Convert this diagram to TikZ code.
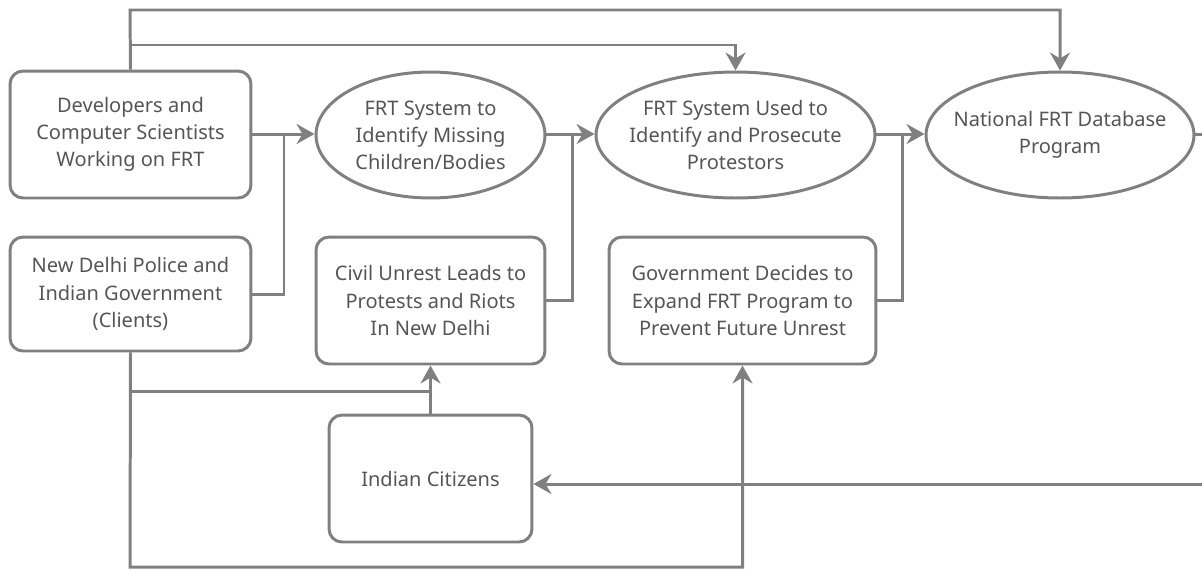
\documentclass[tikz,border=0pt]{standalone}
\usepackage{fontspec}
\setmainfont{Noto Sans}
\usetikzlibrary{shapes.geometric,arrows.meta}

\definecolor{linegray}{HTML}{808080}
\definecolor{textgray}{HTML}{555555}

\tikzset{
  actor/.style={draw=linegray, line width=1.7pt, rounded corners=0.26cm,
    align=center, text=textgray, inner sep=2pt,
    font=\fontsize{11.4}{15.4}\selectfont},
  event/.style={ellipse, draw=linegray, line width=1.7pt,
    align=center, text=textgray, inner xsep=-12pt, inner ysep=-8pt,
    font=\fontsize{11.4}{15.4}\selectfont},
  link/.style={draw=linegray, line width=1.7pt},
  arr/.style={link, -{Stealth[length=0.36cm, width=0.4cm, inset=0.12cm]}}
}

\begin{document}
\begin{tikzpicture}[x=0.02cm, y=-0.02cm]
  \useasboundingbox (0,0) rectangle (1202,569);
  \node[actor, minimum width=4.82cm, minimum height=2.54cm] (devs) at (130.5,134.5)
    {Developers and\\Computer Scientists\\Working on FRT};
  \node[actor, minimum width=4.82cm, minimum height=2.28cm] (police) at (130.5,294)
    {New Delhi Police and\\Indian Government\\(Clients)};
  \node[event, minimum width=4.58cm, minimum height=2.52cm] (missing) at (430.5,135)
    {FRT System to\\Identify Missing\\Children/Bodies};
  \node[event, minimum width=5.58cm, minimum height=2.52cm] (protest) at (735.5,135)
    {FRT System Used to\\Identify and Prosecute\\Protestors};
  \node[event, minimum width=5.36cm, minimum height=2.52cm] (natdb) at (1060,135)
    {National FRT Database\\Program};
  \node[actor, minimum width=4.58cm, minimum height=2.54cm] (unrest) at (430.5,300.5)
    {Civil Unrest Leads to\\Protests and Riots\\In New Delhi};
  \node[actor, minimum width=5.34cm, minimum height=2.54cm] (expand) at (742.5,300.5)
    {Government Decides to\\Expand FRT Program to\\Prevent Future Unrest};
  \node[actor, minimum width=4.06cm, minimum height=2.54cm] (citizens) at (430.5,478.5)
    {Indian Citizens};

  \coordinate (j1) at (284,134);
  \coordinate (j2) at (572,134);
  \coordinate (j3) at (902,134);
  \coordinate (redge) at (1204,134);
  \coordinate (ledge) at (1204,484);

  \draw[arr] (devs.east |- j1) -- (missing.west |- j1);
  \draw[link] (police.east) -| (j1);
  \draw[arr] (missing.east |- j2) -- (protest.west |- j2);
  \draw[link] (unrest.east) -| (j2);
  \draw[arr] (protest.east |- j3) -- (natdb.west |- j3);
  \draw[link] (expand.east) -| (j3);
  \draw[link] (natdb.east |- redge) -- (redge);
  \draw[arr] (ledge) -- (citizens.east |- ledge);

  \draw[arr] (devs.north) -- (130,10) -| (natdb.north);
  \draw[arr] (130,45) -| (protest.north);
  \draw[arr] (citizens.north) -- (unrest.south);
  \draw[link] (130,391) -- (430.5,391);
  \draw[arr] (police.south) -- (130,567) -| (expand.south);
\end{tikzpicture}
\end{document}
